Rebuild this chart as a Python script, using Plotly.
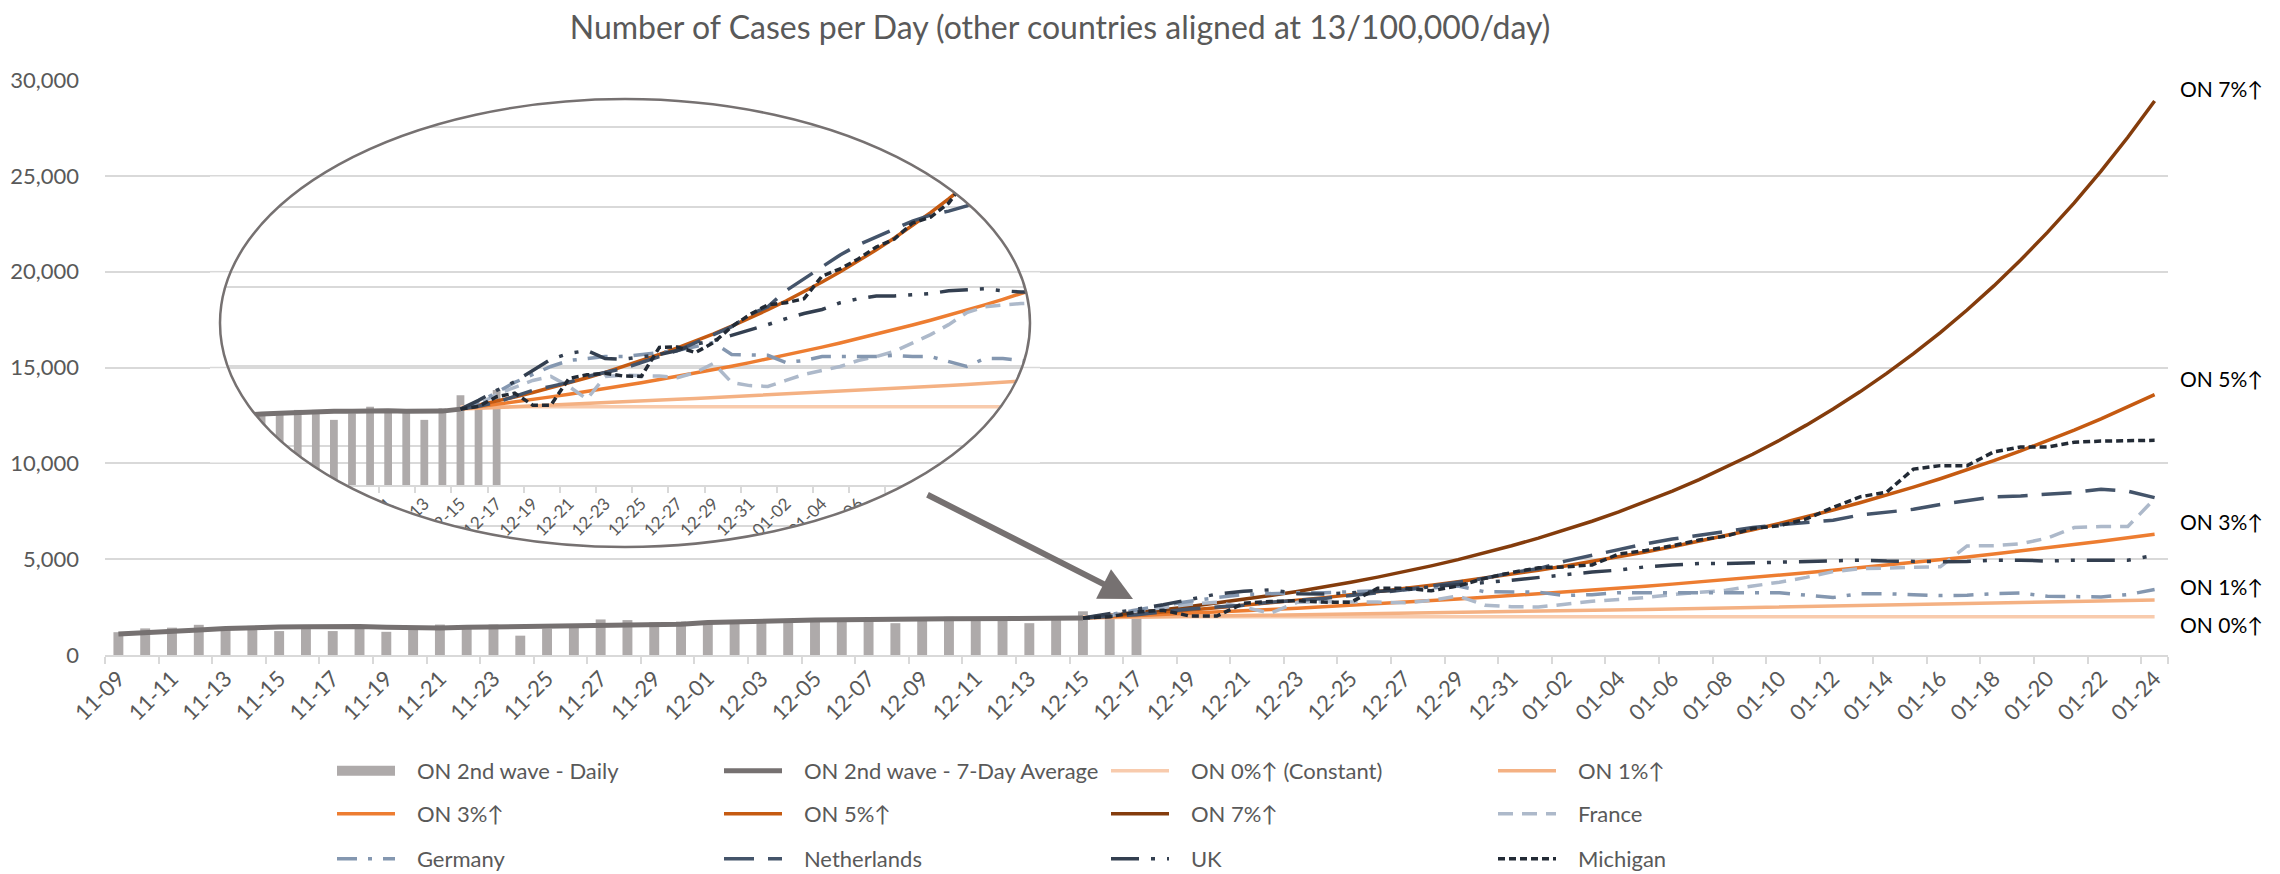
import math
import pandas as pd
import plotly.graph_objects as go

# ---------------- data ----------------
dates = [d.strftime("%m-%d") for d in pd.date_range("2020-11-09", "2021-01-24")]

daily_cases = [1190, 1388, 1426, 1575, 1330, 1520, 1248, 1400, 1249, 1380,
               1210, 1330, 1588, 1400, 1589, 1009, 1373, 1440, 1855, 1822,
               1708, 1746, 1707, 1723, 1824, 1780, 1860, 1910, 1910, 1660,
               1820, 1990, 1900, 1870, 1660, 1950, 2280, 1950, 2410]

avg_7day = [1100, 1190, 1260, 1310, 1380, 1450, 1455, 1470, 1485, 1485,
            1450, 1415, 1415, 1445, 1465, 1450, 1450, 1470, 1520, 1535,
            1555, 1605, 1690, 1740, 1790, 1810, 1825, 1845, 1875, 1875,
            1875, 1890, 1890, 1875, 1875, 1880, 1930]

on_0 = [1990, 1990, 1990, 1990, 1990, 1990, 1990, 1990, 1990, 1990,
        1990, 1990, 1990, 1990, 1990, 1990, 1990, 1990, 1990, 1990,
        1990, 1990, 1990, 1990, 1990, 1990, 1990, 1990, 1990, 1990,
        1990, 1990, 1990, 1990, 1990, 1990, 1990, 1990, 1990, 1990, 1990]
on_1 = [1930, 1949, 1969, 1988, 2008, 2028, 2049, 2069, 2090, 2111,
        2132, 2153, 2175, 2197, 2219, 2241, 2263, 2286, 2308, 2332,
        2355, 2379, 2402, 2426, 2451, 2475, 2500, 2525, 2550, 2576,
        2601, 2627, 2654, 2680, 2707, 2734, 2761, 2789, 2817, 2845, 2874]
on_3 = [1930, 1988, 2048, 2109, 2172, 2237, 2305, 2374, 2445, 2518,
        2594, 2672, 2752, 2834, 2919, 3007, 3097, 3190, 3286, 3384,
        3486, 3590, 3698, 3809, 3923, 4041, 4162, 4287, 4416, 4548,
        4685, 4825, 4970, 5119, 5273, 5431, 5594, 5761, 5934, 6112, 6296]
on_5 = [1930, 2027, 2128, 2234, 2346, 2463, 2586, 2716, 2852, 2994,
        3144, 3301, 3466, 3639, 3821, 4012, 4213, 4424, 4645, 4877,
        5121, 5377, 5646, 5928, 6224, 6536, 6862, 7206, 7566, 7944,
        8341, 8758, 9196, 9656, 10139, 10646, 11178, 11737, 12324, 12940, 13587]
on_7 = [1930, 2065, 2210, 2364, 2530, 2707, 2896, 3099, 3316, 3548,
        3797, 4062, 4347, 4651, 4977, 5325, 5698, 6097, 6523, 6980,
        7469, 7991, 8551, 9149, 9790, 10475, 11208, 11993, 12832, 13731,
        14692, 15720, 16821, 17998, 19258, 20606, 22048, 23592, 25243, 27010, 28901]

france = [1930, 2050, 2300, 2480, 2650, 2750, 2500, 2180, 2750, 2780,
          2780, 2760, 2720, 2850, 3080, 2600, 2520, 2500, 2650, 2800,
          2900, 3000, 3150, 3250, 3380, 3600, 3800, 4050, 4350, 4500,
          4550, 4580, 4600, 5690, 5700, 5800, 6100, 6650, 6700, 6700, 8150]
germany = [1930, 2100, 2350, 2600, 2800, 3000, 3150, 3200, 3250, 3250,
           3300, 3350, 3400, 3500, 3600, 3300, 3280, 3280, 3100, 3150,
           3250, 3250, 3270, 3250, 3280, 3250, 3250, 3120, 3000, 3200,
           3200, 3150, 3100, 3120, 3200, 3230, 3060, 3050, 3030, 3150, 3420]
netherlands = [1930, 2000, 2100, 2250, 2400, 2500, 2600, 2750, 2850, 2950,
               3100, 3250, 3400, 3600, 3800, 4000, 4300, 4500, 4900, 5200,
               5500, 5800, 6050, 6250, 6450, 6650, 6800, 6900, 7030, 7300,
               7450, 7600, 7850, 8050, 8250, 8300, 8400, 8480, 8650, 8550, 8210]
uk = [1930, 2150, 2400, 2620, 2900, 3180, 3330, 3400, 3200, 3180,
      3240, 3300, 3400, 3560, 3650, 3780, 3900, 4050, 4200, 4330,
      4430, 4600, 4700, 4770, 4770, 4800, 4830, 4900, 4920, 4950,
      4900, 4870, 4870, 4880, 4950, 4950, 4900, 4950, 4950, 4940, 5200]
michigan = [1930, 2000, 2240, 2330, 2030, 2030, 2700, 2790, 2830, 2760,
            2750, 3480, 3490, 3350, 3600, 4000, 4300, 4550, 4600, 4700,
            5270, 5450, 5700, 6000, 6200, 6600, 6750, 7100, 7700, 8250,
            8500, 9700, 9880, 9880, 10600, 10850, 10850, 11100, 11160, 11200, 11200]

tick_labels = dates[::2]
inset_tick_labels = dates[26:68:2]
end_labels = ["ON 7%↑", "ON 5%↑", "ON 3%↑", "ON 1%↑", "ON 0%↑"]

bar_dates = dates[:len(daily_cases)]
avg_dates = dates[:len(avg_7day)]
proj_dates = dates[len(dates) - len(on_1):]

# ---------------- styling ----------------
FONT = "Lato, 'Liberation Sans Narrow', sans-serif"
GREY_TXT = "#595959"
GRID = "#D9D9D9"

OFF = 8                      # page body margin offset of the figure
W, H = 2280 - OFF, 874 - OFF
ML, MR, MT, MB = 105 - OFF, 112, 80 - OFF, 219
PW, PH = W - ML - MR, H - MT - MB


def paper_x(px):             # px, py: screen pixel coordinates
    return (px - OFF - ML) / PW


def paper_y(py):
    return (H - MB - (py - OFF)) / PH


NB = "\u00a0" * 3            # gap between legend swatch and its text

series = [
    ("ON 0%↑ (Constant)", on_0, dict(color="#F8CBAD", width=3.5), "legend", True),
    ("ON 1%↑", on_1, dict(color="#F4B183", width=3.5), "legend", True),
    ("ON 3%↑", on_3, dict(color="#ED7D31", width=3.5), "legend2", True),
    ("ON 5%↑", on_5, dict(color="#C55A11", width=3.5), "legend2", True),
    ("ON 7%↑", on_7, dict(color="#843C0C", width=3.5), "legend2", False),
    ("France", france, dict(color="#ADB9CA", width=3.5, dash="15px,9px"), "legend2", True),
    ("Germany", germany, dict(color="#8497B0", width=3.5, dash="20px,11px,4px,11px"), "legend3", True),
    ("Netherlands", netherlands, dict(color="#44546A", width=3.5, dash="30px,14px"), "legend3", True),
    ("UK", uk, dict(color="#333F50", width=3.5, dash="28px,12px,4px,12px,4px,12px"), "legend3", True),
    ("Michigan", michigan, dict(color="#222A35", width=3.5, dash="7px,4px"), "legend3", True),
]

fig = go.Figure()

# legend-only swatch for the daily bars
fig.add_trace(go.Scatter(x=[None], y=[None], mode="lines", name=NB + "ON 2nd wave - Daily",
                         line=dict(color="#AEAAAA", width=16), legend="legend",
                         hoverinfo="skip"))
fig.add_trace(go.Bar(x=bar_dates, y=daily_cases, marker_color="#AEAAAA", width=0.37,
                     showlegend=False, name="ON 2nd wave - Daily"))
fig.add_trace(go.Scatter(x=avg_dates, y=avg_7day, mode="lines",
                         name=NB + "ON 2nd wave - 7-Day Average",
                         line=dict(color="#767171", width=5), legend="legend"))
for name, vals, line, lg, _ in series:
    fig.add_trace(go.Scatter(x=proj_dates, y=vals, mode="lines", name=NB + name,
                             line=line, legend=lg))

# ---------------- inset (magnified view) ----------------
ECX, ECY, ERX, ERY = 625, 323, 405, 224      # screen px
ix0, ix1 = paper_x(ECX - ERX), paper_x(ECX + ERX)
iy0, iy1 = paper_y(ECY + ERY), paper_y(ECY - ERY)

fig.add_trace(go.Bar(x=bar_dates, y=daily_cases, marker_color="#AEAAAA", width=0.43,
                     showlegend=False, xaxis="x2", yaxis="y2"))
fig.add_trace(go.Scatter(x=avg_dates, y=avg_7day, mode="lines", showlegend=False,
                         line=dict(color="#767171", width=5), xaxis="x2", yaxis="y2"))
for name, vals, line, lg, in_inset in series:
    if in_inset:
        fig.add_trace(go.Scatter(x=proj_dates, y=vals, mode="lines", showlegend=False,
                                 line=line, xaxis="x2", yaxis="y2"))

# ---------------- layout ----------------
fig.update_layout(
    width=W, height=H, autosize=False, template="none",
    paper_bgcolor="white", plot_bgcolor="rgba(0,0,0,0)",
    margin=dict(l=ML, r=MR, t=MT, b=MB, pad=0, autoexpand=False),
    font=dict(family=FONT, color=GREY_TXT),
    title=dict(text="Number of Cases per Day (other countries aligned at 13/100,000/day)",
               x=(1060 - OFF) / W, y=1 - (28 - OFF) / H, xref="container", yref="container",
               xanchor="center", yanchor="middle",
               font=dict(family=FONT, size=32, color=GREY_TXT)),
    bargap=0.6,
    xaxis=dict(type="category", categoryorder="array", categoryarray=dates,
               range=[-0.5, len(dates) - 0.5], tickmode="array", tickvals=tick_labels,
               tickangle=-45, tickson="boundaries", ticks="outside", ticklen=7,
               tickwidth=1.5, tickcolor=GRID, showline=True, linecolor=GRID, linewidth=2,
               showgrid=False, zeroline=False,
               tickfont=dict(family=FONT, size=22, color=GREY_TXT)),
    yaxis=dict(range=[0, 30000], dtick=5000, tickformat=",", showgrid=True,
               gridcolor=GRID, gridwidth=1.5, zeroline=False, showline=False,
               ticks="", ticklabelstandoff=25,
               tickfont=dict(family=FONT, size=22, color=GREY_TXT)),
    xaxis2=dict(type="category", categoryorder="array", categoryarray=dates,
                domain=[ix0, ix1], anchor="free", position=paper_y(486),
                range=[22.7, 67.5], tickmode="array", tickvals=inset_tick_labels,
                tickangle=-45, tickson="boundaries", ticks="outside", ticklen=6,
                tickwidth=1.5, tickcolor=GRID, showline=True, linecolor=GRID, linewidth=2,
                showgrid=False, zeroline=False,
                tickfont=dict(family=FONT, size=17, color=GREY_TXT)),
    yaxis2=dict(domain=[iy0, iy1], anchor="x2", range=[-1531, 9714], tick0=1000, dtick=2000,
                showgrid=True, gridcolor=GRID, gridwidth=1.5, showticklabels=False,
                zeroline=False, showline=False, ticks=""),
    showlegend=True,
)

leg_common = dict(orientation="h", xanchor="left", yanchor="middle",
                  font=dict(family=FONT, size=22, color=GREY_TXT), itemwidth=58,
                  entrywidth=314, entrywidthmode="pixels", bgcolor="rgba(0,0,0,0)",
                  borderwidth=0, x=paper_x(332))
fig.update_layout(
    legend=dict(leg_common, y=paper_y(771)),
    legend2=dict(leg_common, y=paper_y(814)),
    legend3=dict(leg_common, y=paper_y(859)),
)

# ---------------- shapes: mask outside the magnifier ellipse ----------------
pad = 10
N = 180
pts = [(ECX + ERX * math.cos(2 * math.pi * i / N), ECY + ERY * math.sin(2 * math.pi * i / N))
       for i in range(N)]


def P(px, py):
    return f"{paper_x(px):.5f},{paper_y(py):.5f}"


mx0, mx1, my0, my1 = ECX - ERX - pad, ECX + ERX + pad, ECY - ERY - pad, ECY + ERY + pad
mask_path = (f"M{P(mx0, my0)} L{P(mx1, my0)} L{P(mx1, my1)} L{P(mx0, my1)} Z "
             + "M" + " L".join(P(x, y) for x, y in pts) + " Z")
shapes = [dict(type="path", path=mask_path, xref="paper", yref="paper",
               fillcolor="white", line=dict(width=0), layer="above")]

# main gridlines that pass beside the ellipse (hidden by the mask) redrawn there
for g in range(5000, 30001, 5000):
    py = (H - MB) + OFF - g * PH / 30000
    if my0 < py < my1:
        dy = (py - ECY) / ERY
        hw = ERX * math.sqrt(max(0.0, 1 - dy * dy)) if abs(dy) < 1 else 0
        for a, b in ((mx0, ECX - hw), (ECX + hw, mx1)):
            shapes.append(dict(type="line", xref="paper", yref="y", x0=paper_x(a), x1=paper_x(b),
                               y0=g, y1=g, line=dict(color=GRID, width=1.5), layer="above"))

shapes.append(dict(type="circle", xref="paper", yref="paper", x0=ix0, x1=ix1, y0=iy0, y1=iy1,
                   line=dict(color="#767171", width=2.5), fillcolor="rgba(0,0,0,0)", layer="above"))
fig.update_layout(shapes=shapes)

# ---------------- annotations ----------------
annots = []
for txt, vals, ys in zip(end_labels, [on_7, on_5, on_3, on_1, on_0], [13, 16, 13, 13, -8]):
    annots.append(dict(x=dates[-1], y=vals[-1], xref="x", yref="y", text=txt, showarrow=False,
                       xanchor="left", yanchor="middle", xshift=23, yshift=ys,
                       font=dict(family=FONT, size=21, color="#000000")))
annots.append(dict(x=paper_x(1133), y=paper_y(599), xref="paper", yref="paper", text="",
                   showarrow=True, arrowhead=2, arrowsize=1.1, arrowwidth=6,
                   arrowcolor="#767171", ax=-207, ay=-105, axref="pixel", ayref="pixel"))
fig.update_layout(annotations=annots)

fig.write_html("out.html")
